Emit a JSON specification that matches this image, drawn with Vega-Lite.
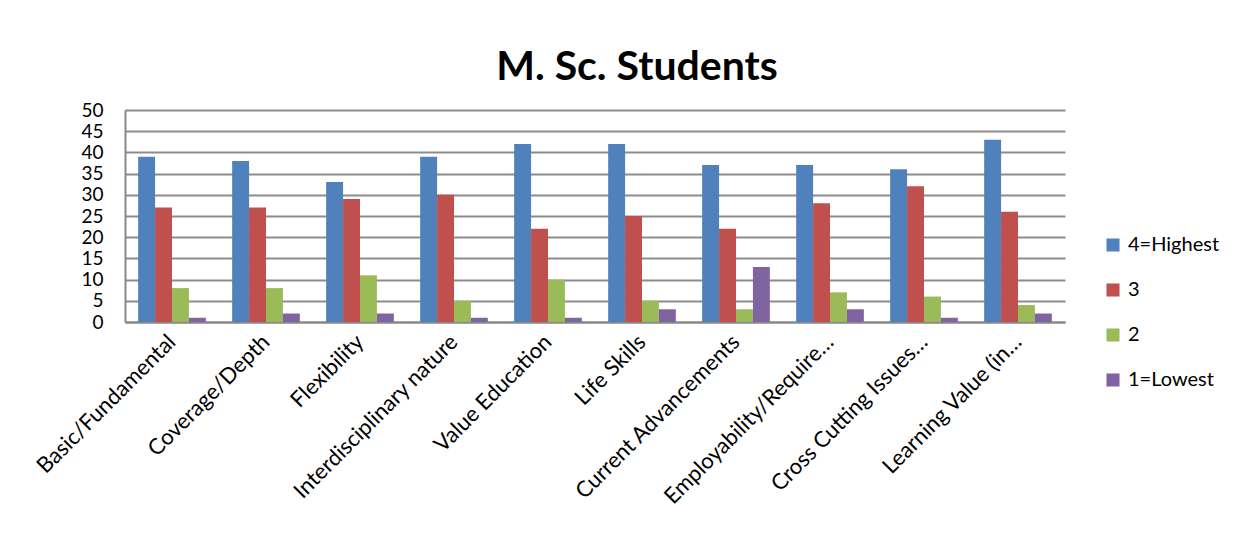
{
  "$schema": "https://vega.github.io/schema/vega-lite/v6.json",
  "width": 940,
  "height": 212,
  "autosize": {"type": "none"},
  "padding": {"left": 125, "top": 110, "right": 188, "bottom": 222},
  "background": "white",
  "title": {"text": "M. Sc. Students", "fontSize": 41, "font": "Lato", "fontWeight": "bold", "color": "black", "anchor": "middle", "dx": 42, "offset": 12},
  "data": {"values": [
    {"category": "Basic/Fundamental", "series": "4=Highest", "value": 39},
    {"category": "Basic/Fundamental", "series": "3", "value": 27},
    {"category": "Basic/Fundamental", "series": "2", "value": 8},
    {"category": "Basic/Fundamental", "series": "1=Lowest", "value": 1},
    {"category": "Coverage/Depth", "series": "4=Highest", "value": 38},
    {"category": "Coverage/Depth", "series": "3", "value": 27},
    {"category": "Coverage/Depth", "series": "2", "value": 8},
    {"category": "Coverage/Depth", "series": "1=Lowest", "value": 2},
    {"category": "Flexibility", "series": "4=Highest", "value": 33},
    {"category": "Flexibility", "series": "3", "value": 29},
    {"category": "Flexibility", "series": "2", "value": 11},
    {"category": "Flexibility", "series": "1=Lowest", "value": 2},
    {"category": "Interdisciplinary nature", "series": "4=Highest", "value": 39},
    {"category": "Interdisciplinary nature", "series": "3", "value": 30},
    {"category": "Interdisciplinary nature", "series": "2", "value": 5},
    {"category": "Interdisciplinary nature", "series": "1=Lowest", "value": 1},
    {"category": "Value Education", "series": "4=Highest", "value": 42},
    {"category": "Value Education", "series": "3", "value": 22},
    {"category": "Value Education", "series": "2", "value": 10},
    {"category": "Value Education", "series": "1=Lowest", "value": 1},
    {"category": "Life Skills", "series": "4=Highest", "value": 42},
    {"category": "Life Skills", "series": "3", "value": 25},
    {"category": "Life Skills", "series": "2", "value": 5},
    {"category": "Life Skills", "series": "1=Lowest", "value": 3},
    {"category": "Current Advancements", "series": "4=Highest", "value": 37},
    {"category": "Current Advancements", "series": "3", "value": 22},
    {"category": "Current Advancements", "series": "2", "value": 3},
    {"category": "Current Advancements", "series": "1=Lowest", "value": 13},
    {"category": "Employability/Require…", "series": "4=Highest", "value": 37},
    {"category": "Employability/Require…", "series": "3", "value": 28},
    {"category": "Employability/Require…", "series": "2", "value": 7},
    {"category": "Employability/Require…", "series": "1=Lowest", "value": 3},
    {"category": "Cross Cutting Issues…", "series": "4=Highest", "value": 36},
    {"category": "Cross Cutting Issues…", "series": "3", "value": 32},
    {"category": "Cross Cutting Issues…", "series": "2", "value": 6},
    {"category": "Cross Cutting Issues…", "series": "1=Lowest", "value": 1},
    {"category": "Learning Value (in…", "series": "4=Highest", "value": 43},
    {"category": "Learning Value (in…", "series": "3", "value": 26},
    {"category": "Learning Value (in…", "series": "2", "value": 4},
    {"category": "Learning Value (in…", "series": "1=Lowest", "value": 2}
  ]},
  "mark": {"type": "bar"},
  "encoding": {
    "x": {
      "field": "category", "type": "nominal", "sort": null,
      "scale": {"paddingInner": 0.28, "paddingOuter": 0.14},
      "axis": {"title": null, "labelAngle": -45, "labelAlign": "right", "labelBaseline": "middle", "labelFontSize": 22, "labelFont": "Lato", "labelColor": "black", "labelPadding": 16, "ticks": false, "domainColor": "#888888", "domainWidth": 2, "labelLimit": 400, "labelOffset": 0}
    },
    "xOffset": {"field": "series", "type": "nominal", "sort": ["4=Highest", "3", "2", "1=Lowest"], "scale": {"paddingInner": 0}},
    "y": {
      "field": "value", "type": "quantitative",
      "scale": {"domain": [0, 50]},
      "axis": {"title": null, "values": [0,5,10,15,20,25,30,35,40,45,50], "labelFontSize": 19, "labelFont": "Lato", "labelColor": "black", "labelPadding": 22, "ticks": false, "domainColor": "#888888", "domainWidth": 2, "gridColor": "#8c8c8c", "gridWidth": 2}
    },
    "color": {
      "field": "series", "type": "nominal",
      "scale": {"domain": ["4=Highest", "3", "2", "1=Lowest"], "range": ["#4F81BD", "#C0504D", "#9BBB59", "#8064A2"]},
      "legend": {"title": null, "orient": "none", "legendX": 978, "legendY": 125, "symbolType": "square", "symbolSize": 170, "symbolStrokeWidth": 0, "labelFontSize": 20, "labelFont": "Lato", "labelColor": "black", "rowPadding": 25, "labelOffset": 5}
    }
  },
  "config": {"view": {"stroke": null}}
}
